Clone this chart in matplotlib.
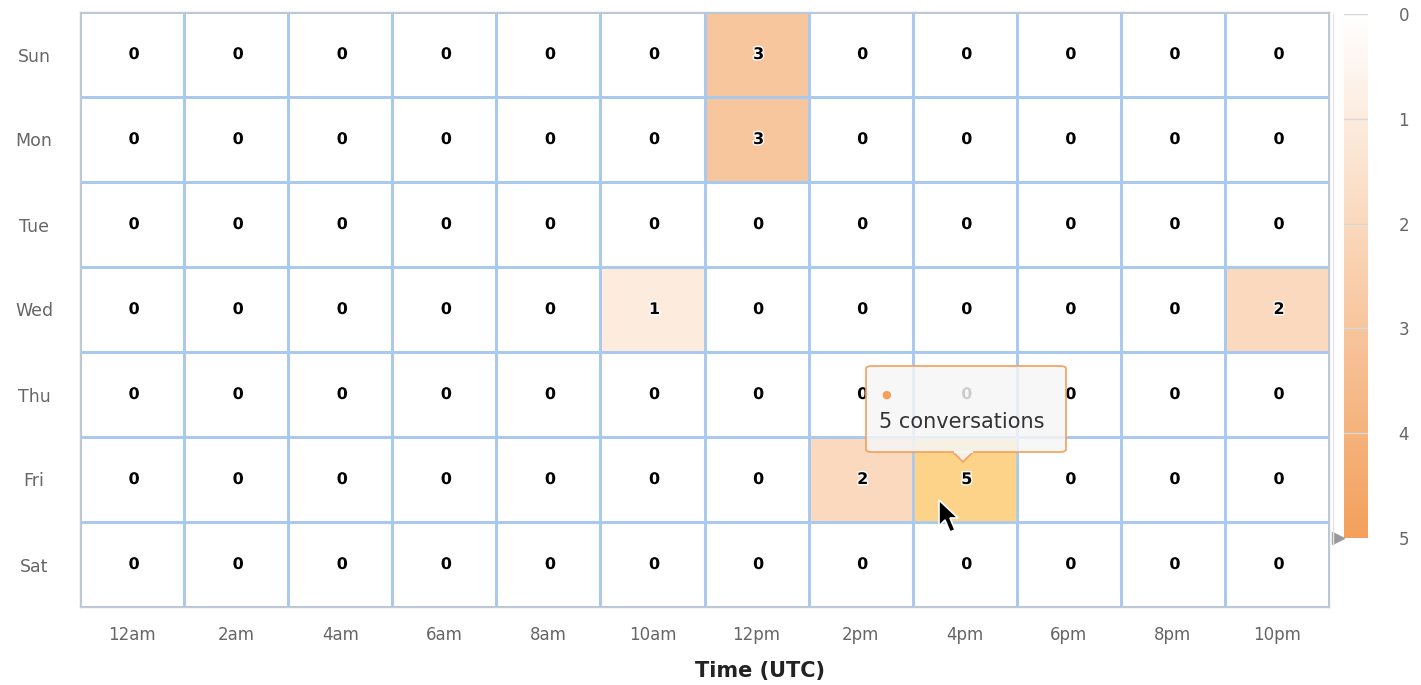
import numpy as np
import matplotlib
matplotlib.use('Agg')
from matplotlib import pyplot as plt
from matplotlib.colors import LinearSegmentedColormap
from matplotlib.patches import Rectangle, FancyBboxPatch, Polygon
import matplotlib.patheffects as pe

days = ['Sun', 'Mon', 'Tue', 'Wed', 'Thu', 'Fri', 'Sat']
hours = ['12am', '2am', '4am', '6am', '8am', '10am', '12pm', '2pm', '4pm', '6pm', '8pm', '10pm']
counts = [
    [0, 0, 0, 0, 0, 0, 3, 0, 0, 0, 0, 0],
    [0, 0, 0, 0, 0, 0, 3, 0, 0, 0, 0, 0],
    [0, 0, 0, 0, 0, 0, 0, 0, 0, 0, 0, 0],
    [0, 0, 0, 0, 0, 1, 0, 0, 0, 0, 0, 2],
    [0, 0, 0, 0, 0, 0, 0, 0, 0, 0, 0, 0],
    [0, 0, 0, 0, 0, 0, 0, 2, 5, 0, 0, 0],
    [0, 0, 0, 0, 0, 0, 0, 0, 0, 0, 0, 0],
]
hover_day, hover_hour = 'Fri', '4pm'
cbar_ticks = [0, 1, 2, 3, 4, 5]

data = np.array(counts)
cmap = LinearSegmentedColormap.from_list('heat', ['#ffffff', '#f3a05c'])

fig = plt.figure(figsize=(14.21, 6.85), dpi=100)
W, H = 1421, 685

def fx(x):
    return x / W

def fy(y):
    return 1 - y / H

ax = fig.add_axes([fx(80), fy(607), fx(1329) - fx(80), fy(12) - fy(607)])
mesh = ax.pcolormesh(data, cmap=cmap, vmin=0, vmax=5,
                     edgecolors='#a9c9ee', linewidth=1.8)
ax.set_xlim(0, len(hours))
ax.set_ylim(len(days), 0)

# hovered cell
hi, hj = days.index(hover_day), hours.index(hover_hour)
ax.add_patch(Rectangle((hj, hi), 1, 1, facecolor='#fdd38a',
                       edgecolor='#a9c9ee', linewidth=1.8, zorder=2))

for i in range(len(days)):
    for j in range(len(hours)):
        ax.text(j + 0.52, i + 0.5, str(data[i, j]), ha='center', va='center',
                fontsize=11.5, fontweight='bold', color='black', zorder=3,
                path_effects=[pe.withStroke(linewidth=2, foreground='white')])

ax.set_xticks(np.arange(len(hours)) + 0.5)
ax.set_xticklabels(hours, fontsize=12, color='#666666')
ax.set_yticks(np.arange(len(days)) + 0.5)
ax.set_yticklabels(days, fontsize=12.5, color='#666666')
ax.tick_params(axis='x', length=0, pad=14)
ax.tick_params(axis='y', length=0, pad=33)
for lbl in ax.get_yticklabels():
    lbl.set_horizontalalignment('center')
for s in ax.spines.values():
    s.set_color('#c8c8c8')
    s.set_linewidth(1)

fig.text(fx(760), fy(671), 'Time (UTC)', ha='center', va='center',
         fontsize=15, fontweight='bold', color='#222222')

# colour axis
cax = fig.add_axes([fx(1344), fy(538), fx(1368) - fx(1344), fy(14) - fy(538)])
grad = np.linspace(0, 5, 256).reshape(-1, 1)
cax.imshow(grad, cmap=cmap, aspect='auto', extent=[0, 1, 5, 0], vmin=0, vmax=5)
cax.set_xlim(0, 1)
cax.set_ylim(5, 0)
for t in cbar_ticks[:-1]:
    cax.axhline(t, color='#d8d8d8', linewidth=1)
cax.set_xticks([])
cax.yaxis.tick_right()
cax.set_yticks(cbar_ticks)
cax.set_yticklabels([str(t) for t in cbar_ticks], fontsize=12, color='#666666')
cax.tick_params(length=0, pad=22)
for s in cax.spines.values():
    s.set_visible(False)
cax.plot([-0.25], [5], marker='>', markersize=9, color='#999999', clip_on=False)
fig.add_artist(plt.Line2D([fx(1333), fx(1333)], [fy(14), fy(545)], color='#e6e6e6', linewidth=1))

# tooltip (semi-transparent, the cell label underneath shows through)
tip = FancyBboxPatch((fx(866), fy(452)), fx(1066) - fx(866), fy(366) - fy(452),
                     boxstyle='round,pad=0,rounding_size=0.004',
                     transform=fig.transFigure, facecolor=(0.965, 0.965, 0.965, 0.84),
                     edgecolor='#f3a05c', linewidth=1.2, zorder=10)
fig.add_artist(tip)
fig.add_artist(Polygon([[fx(953), fy(452)], [fx(963), fy(462)], [fx(973), fy(452)]],
                       closed=True, transform=fig.transFigure,
                       facecolor=(0.965, 0.965, 0.965, 0.84),
                       edgecolor='#f3a05c', linewidth=1.2, zorder=10))
fig.add_artist(plt.Line2D([fx(954.5), fx(971.5)], [fy(452), fy(452)], color='#f6f6f6',
                          linewidth=1.6, zorder=11))
fig.text(fx(886), fy(395), '●', ha='center', va='center', fontsize=8,
         color='#f3a05c', zorder=12)
fig.text(fx(879), fy(422), '5 conversations', ha='left', va='center',
         fontsize=15, color='#333333', zorder=12)

# mouse pointer
cursor = [(939, 500), (939, 526), (945, 520), (950, 532), (955, 530),
          (950, 518), (958, 518)]
fig.add_artist(Polygon([[fx(x), fy(y)] for x, y in cursor], closed=True,
                       transform=fig.transFigure, facecolor='black',
                       edgecolor='white', linewidth=1.2, zorder=13))

fig.savefig('out.png', dpi=100)
